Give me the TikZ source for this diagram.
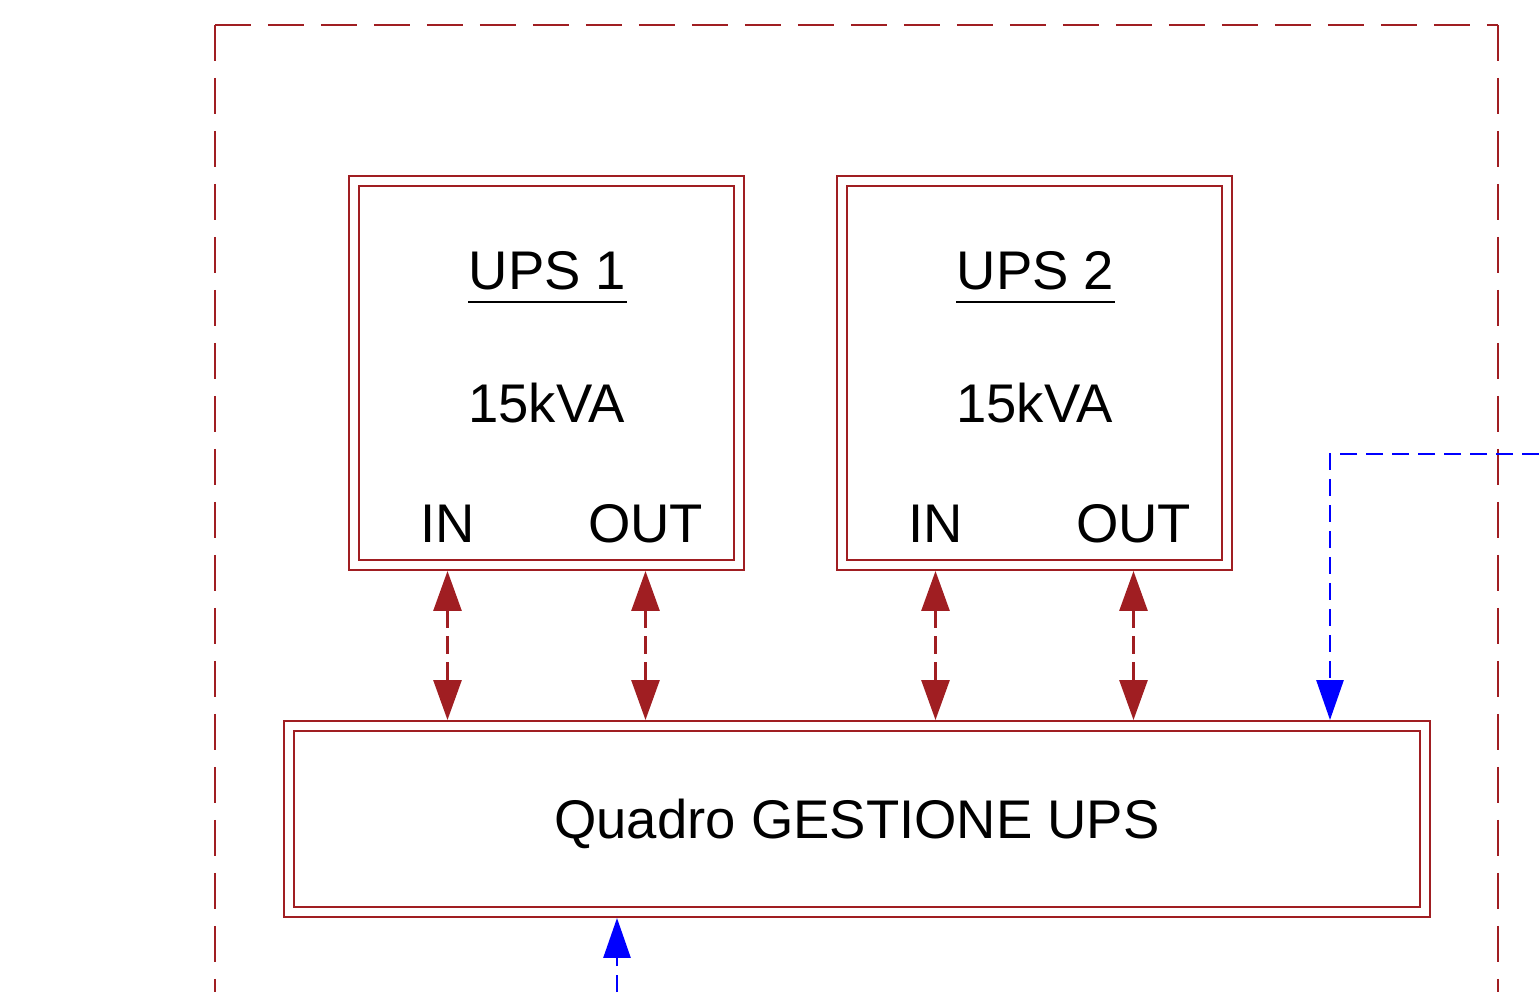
\documentclass[tikz,border=0pt]{standalone}
\usepackage{fontspec}
\setmainfont{Liberation Sans}
\usetikzlibrary{arrows.meta}
\definecolor{bordo}{RGB}{160,30,34}
\definecolor{blu}{RGB}{0,0,255}
\tikzset{
	cornice/.style={draw=bordo, line width=0.7pt, dash pattern=on 0.72cm off 0.34cm},
	ups/.style={draw=bordo, double, double distance=0.161cm, line width=1.1pt,
		minimum width=7.7cm, minimum height=7.68cm, outer sep=0.12cm},
	quadro/.style={ups, minimum width=22.72cm, minimum height=3.72cm,
		text height=0.76cm, text depth=0cm, font=\fontsize{31}{37}\selectfont},
	testo/.style={inner sep=0pt, font=\fontsize{31}{37}\selectfont},
	freccia/.style={draw=bordo, line width=1.6pt, dash pattern=on 0.36cm off 0.16cm,
		{Triangle[length=0.8cm, width=0.56cm, fill=bordo]}-{Triangle[length=0.8cm, width=0.56cm, fill=bordo]}},
	linea/.style={draw=blu, line width=1.6pt, dash pattern=on 0.34cm off 0.18cm,
		-{Triangle[length=0.8cm, width=0.54cm, fill=blu]}}
}
\begin{document}
\begin{tikzpicture}[x=0.02cm, y=-0.02cm]
			\useasboundingbox (0,0) rectangle (1539,992);
			\draw[cornice] (215,25) -- (215,992);
			\draw[cornice] (215,25) -- (1498,25);
			\draw[cornice] (1498,25) -- (1498,992);
			\node[quadro] (quadro) at (857,819) {Quadro GESTIONE UPS};
			\foreach \n\x in {1/546.5,2/1034.5}{
				\node[ups] (ups\n) at (\x,373) {};
				\node[testo, anchor=base] (titolo\n) at (\x+1,289) {UPS \n};
				\node[testo, anchor=base] (potenza\n) at (\x,422) {15kVA};
				\node[testo, anchor=base] (in\n) at (\x-99,542) {IN};
				\node[testo, anchor=base] (out\n) at (\x+99,542) {OUT};
				\draw[line width=1.1pt] ([yshift=-0.26cm]titolo\n.base west) -- ([yshift=-0.26cm]titolo\n.base east);
				\draw[freccia] (ups\n.south -| in\n) -- (quadro.north -| in\n);
				\draw[freccia] (ups\n.south -| out\n) -- (quadro.north -| out\n);
			}
			\coordinate (ingresso) at (1539,454);
			\coordinate (piega) at (1330,454);
			\coordinate (uscita) at (617,992);
			\draw[linea] (ingresso) -- (piega) -- (piega |- quadro.north);
			\draw[linea] (uscita) -- (uscita |- quadro.south);
		\end{tikzpicture}
\end{document}
